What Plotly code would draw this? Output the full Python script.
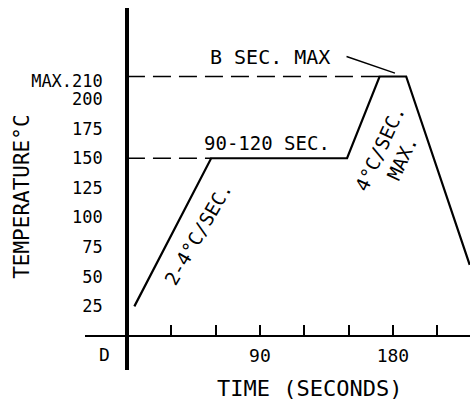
import plotly.graph_objects as go

# Reflow profile (schematic)
time_s = [5, 57, 149, 171, 189, 232]
temp_c = [25, 150, 150, 219, 219, 60]

y_tick_vals = [25, 50, 75, 100, 125, 150, 175, 200, 215]
y_tick_text = ["25", "50", "75", "100", "125", "150", "175", "200", "MAX.210"]
x_tick_vals = [30, 60, 90, 120, 150, 180, 210]
x_tick_text = ["", "", "90", "", "", "180", ""]

FONT = "DejaVu Sans Mono"
X_RANGE = [-28.4, 232.2]
Y_RANGE = [-28.7, 276.8]

fig = go.Figure()

# dashed reference lines
fig.add_trace(go.Scatter(x=[0, time_s[1]], y=[temp_c[1], temp_c[1]], mode="lines",
                         line=dict(color="black", width=1.6, dash="18px,8px"),
                         hoverinfo="skip", showlegend=False))
fig.add_trace(go.Scatter(x=[0, time_s[3]], y=[temp_c[3], temp_c[3]], mode="lines",
                         line=dict(color="black", width=1.6, dash="18px,8px"),
                         hoverinfo="skip", showlegend=False))
# profile
fig.add_trace(go.Scatter(x=time_s, y=temp_c, mode="lines",
                         line=dict(color="black", width=2.2),
                         showlegend=False))

def f(size):
    return dict(family=FONT, size=size, color="black")

annotations = [
    dict(x=96.8, y=235.4, text="B SEC. MAX", showarrow=False, font=f(20)),
    dict(x=181.4, y=221.9, ax=147.6, ay=236.3, xref="x", yref="y", axref="x", ayref="y",
         text="", showarrow=True, arrowhead=0, arrowwidth=1.4, arrowcolor="black"),
    dict(x=94.8, y=162.9, text="90-120 SEC.", showarrow=False, font=f(19)),
    dict(x=48, y=86, text="2-4°C/SEC.", showarrow=False, textangle=-60, font=f(19)),
    dict(x=171.3, y=158.6, text="4°C/SEC.", showarrow=False, textangle=-65, font=f(19)),
    dict(x=186.2, y=150.2, text="MAX.", showarrow=False, textangle=-65, font=f(19)),
    dict(x=-14.9, y=-16, text="D", showarrow=False, font=f(18)),
    dict(xref="paper", yref="paper", x=-0.164, y=0.478, xanchor="center", yanchor="middle",
         text="TEMPERATURE°C", textangle=-90, showarrow=False, font=f(21)),
    dict(xref="paper", yref="paper", x=0.582, y=-0.05, xanchor="center", yanchor="middle",
         text="TIME (SECONDS)", showarrow=False, font=f(22)),
]

fig.update_layout(
    width=470, height=403,
    margin=dict(l=85, r=0, t=8, b=33, pad=0),
    plot_bgcolor="white", paper_bgcolor="white",
    annotations=annotations,
    xaxis=dict(range=X_RANGE, anchor="free", automargin=False,
               position=(0 - Y_RANGE[0]) / (Y_RANGE[1] - Y_RANGE[0]),
               showline=True, linecolor="black", linewidth=2,
               showgrid=False, zeroline=False,
               tickmode="array", tickvals=x_tick_vals, ticktext=x_tick_text,
               ticks="inside", ticklen=10, tickwidth=1.5, tickcolor="black",
               ticklabelstandoff=3,
               tickfont=f(18)),
    yaxis=dict(range=Y_RANGE, anchor="free", automargin=False,
               position=(0 - X_RANGE[0]) / (X_RANGE[1] - X_RANGE[0]),
               showline=True, linecolor="black", linewidth=3.5,
               showgrid=False, zeroline=False,
               tickmode="array", tickvals=y_tick_vals, ticktext=y_tick_text,
               ticks="", ticklabelstandoff=19,
               tickfont=f(17)),
)

fig.write_html("out.html", config={"displayModeBar": False},
               post_script="document.body.style.margin='0';document.body.style.overflow='hidden';")
